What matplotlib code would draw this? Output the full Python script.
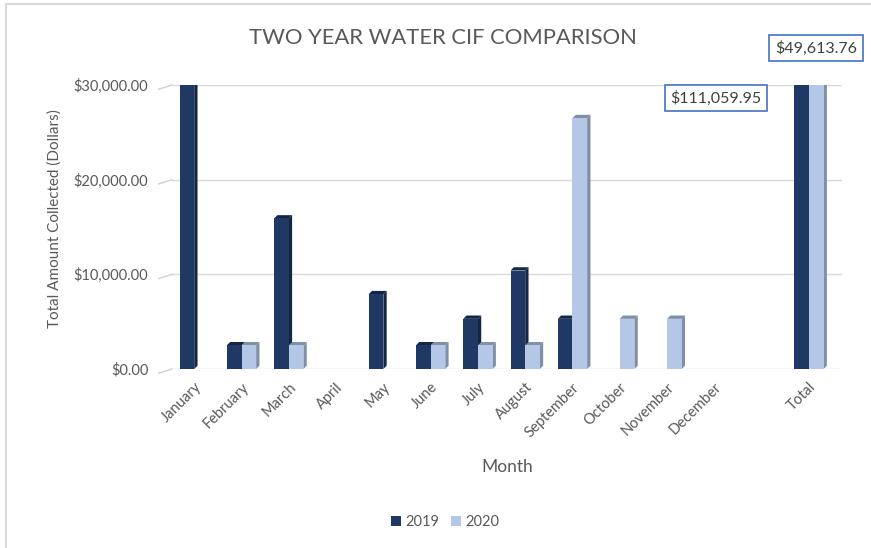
import matplotlib
matplotlib.use("Agg")
import matplotlib.pyplot as plt
from matplotlib.patches import Polygon, Rectangle
from matplotlib.ticker import FuncFormatter
import numpy as np

# Monthly collections (dollars); blank slot separates the months from the totals
categories = ["January", "February", "March", "April", "May", "June", "July",
              "August", "September", "October", "November", "December", "", "Total"]
values_2019 = [61300, 2500, 15900, 0, 7900, 2500, 5300, 10400, 5300, 0, 0, 0, 0, 111059.95]
values_2020 = [0, 2500, 2500, 0, 0, 2500, 2500, 2500, 26500, 5300, 5300, 0, 0, 49613.76]
series_names = ["2019", "2020"]
total_labels = ["$111,059.95", "$49,613.76"]
y_ticks = [0, 10000, 20000, 30000]

plt.rcParams["font.family"] = ["Lato", "DejaVu Sans"]
TEXT = "#595959"
FRONT = ["#203864", "#b4c7e7"]
SIDE = ["#142645", "#7f8fa8"]

fig = plt.figure(figsize=(8.71, 5.48), dpi=100)
W, H = 871, 548

# chart area outline (left and top edges visible)
fig.patches.append(Rectangle((6 / W, -0.1), 1.2, 1 - 4 / H + 0.1,
                             transform=fig.transFigure, fill=False,
                             edgecolor="#d9d9d9", linewidth=1.5))

ax = fig.add_axes([172 / W, 1 - 369 / H, (842 - 172) / W, (369 - 85) / H])
ax.set_ylim(0, 30000)
ax.set_xlim(-0.47, 13.7)

x = np.arange(len(categories))
bw = 0.31
containers = []
for i, vals in enumerate([values_2019, values_2020]):
    offs = (i - 0.5) * bw
    bars = ax.bar(x + offs, vals, width=bw, color=FRONT[i], label=series_names[i],
                  zorder=3, linewidth=0)
    containers.append(bars)

# depth faces giving the columns a 3-D look
dx, dy = 0.07, 350
for i, bars in enumerate(containers):
    for rect in bars:
        h = rect.get_height()
        if h <= 0:
            continue
        x0 = rect.get_x()
        x1 = x0 + rect.get_width()
        side = Polygon([(x1, 0), (x1 + dx, dy), (x1 + dx, h + dy), (x1, h)],
                       closed=True, facecolor=SIDE[i], edgecolor="none", zorder=2.5)
        top = Polygon([(x0, h), (x0 + dx, h + dy), (x1 + dx, h + dy), (x1, h)],
                      closed=True, facecolor=SIDE[i], edgecolor="none", zorder=2.5)
        ax.add_patch(side)
        ax.add_patch(top)

ax.set_yticks(y_ticks)
ax.yaxis.set_major_formatter(FuncFormatter(lambda v, p: f"${v:,.2f}"))
ax.grid(axis="y", color="#d9d9d9", linewidth=1.0, zorder=0)
ax.set_axisbelow(True)
for s in ax.spines.values():
    s.set_visible(False)

# short slanted floor edges at the left end of each gridline
for yt in y_ticks:
    ax.plot([-0.75, -0.47], [yt - 450, yt], color="#d0d0d0", linewidth=1.0,
            clip_on=False, zorder=5)

ax.tick_params(axis="y", length=0, pad=17, labelsize=10.5, labelcolor=TEXT)
ax.set_xticks(x)
ax.set_xticklabels(categories, rotation=45, ha="right", rotation_mode="anchor")
ax.tick_params(axis="x", length=0, pad=8, labelsize=10.5, labelcolor=TEXT)

ax.set_xlabel("Month", fontsize=12.5, color=TEXT, labelpad=14)
ax.set_ylabel("Total Amount Collected (Dollars)", fontsize=11, color=TEXT)
ax.yaxis.set_label_coords(-0.165, 0.53)

fig.text(443 / W, 1 - 38 / H, "TWO YEAR WATER CIF COMPARISON", ha="center",
         va="center", fontsize=15.8, color=TEXT)

# boxed totals
box = dict(boxstyle="square,pad=0.35", facecolor="white", edgecolor="#4472c4", linewidth=1.2)
fig.text(716 / W, 1 - 98 / H, total_labels[0], ha="center", va="center",
         fontsize=11.5, color="#404040", bbox=box)
fig.text(816 / W, 1 - 48 / H, total_labels[1], ha="center", va="center",
         fontsize=11.5, color="#404040", bbox=box)

fig.legend(loc="center", bbox_to_anchor=(445 / W, 1 - 522 / H), ncol=2, frameon=False,
           fontsize=10.5, labelcolor=TEXT, handlelength=0.7, handleheight=0.7,
           handletextpad=0.3, columnspacing=0.8)

fig.savefig("out.png", dpi=100)
